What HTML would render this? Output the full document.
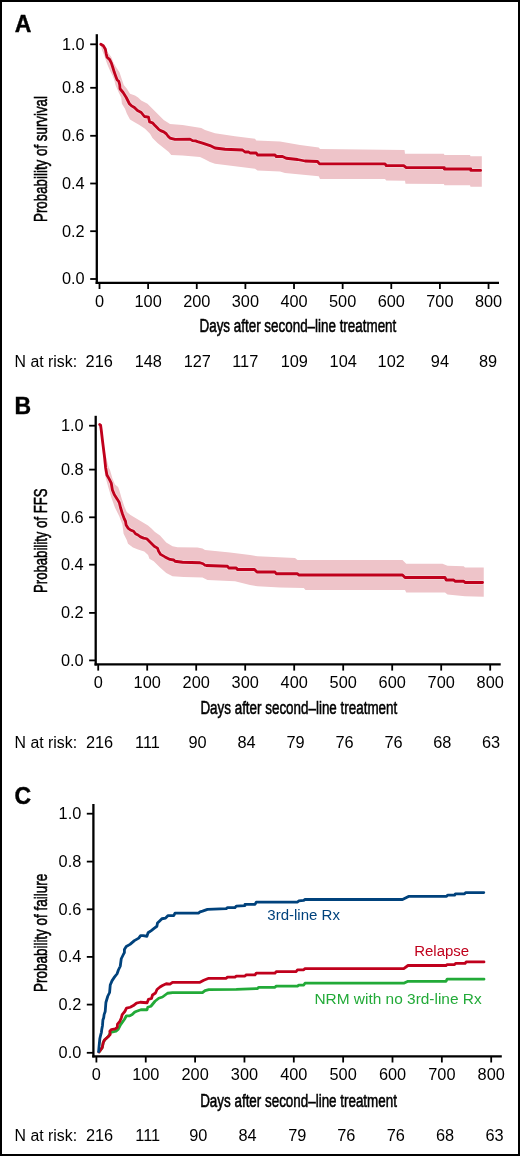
<!DOCTYPE html>
<html><head><meta charset="utf-8"><style>
html,body{margin:0;padding:0;background:#fff;}
body{width:520px;height:1156px;overflow:hidden;}
svg{display:block;will-change:transform;}
.plab{font-family:"Liberation Sans",sans-serif;font-weight:bold;font-size:23px;fill:#000;stroke:#000;stroke-width:0.4px;}
.tl{font-family:"Liberation Sans",sans-serif;font-size:16px;fill:#000;}
.nr{font-family:"Liberation Sans",sans-serif;font-size:16px;fill:#000;}
.tt{font-family:"Liberation Sans",sans-serif;font-size:18px;fill:#000;stroke:#000;stroke-width:0.55px;}
.yt{font-size:18.6px;}
.lg{font-family:"Liberation Sans",sans-serif;font-size:15.5px;}
.ax{stroke:#000;stroke-width:2.3;fill:none;}
.tk{stroke:#000;stroke-width:1.8;fill:none;}
</style></head><body>
<svg width="520" height="1156" viewBox="0 0 520 1156">
<rect x="1" y="1" width="518" height="1154" fill="#fff" stroke="#000" stroke-width="2"/>
<polygon points="100.50,44.30 104.50,49.80 108.50,53.30 111.40,57.30 113.20,62.00 116.00,67.10 119.50,72.30 121.80,79.20 123.75,85.00 126.90,88.75 130.00,93.75 135.00,95.60 138.10,97.50 141.25,100.60 147.50,103.75 152.50,108.75 158.75,115.00 163.75,120.00 170.00,124.00 182.50,125.00 195.00,126.90 201.25,128.10 205.00,130.00 215.00,133.25 235.00,136.25 255.00,138.75 256.25,140.50 280.00,141.50 300.00,145.00 318.75,147.50 320.00,149.00 404.50,150.00 405.00,153.75 443.80,153.75 444.50,155.10 470.00,155.10 470.50,156.30 481.80,156.30 481.80,186.80 470.50,186.80 470.00,185.20 444.50,185.20 443.80,184.00 405.50,183.75 405.00,180.75 386.25,180.50 385.00,179.00 320.00,179.00 318.75,176.25 285.00,173.00 280.00,171.50 257.50,170.50 255.00,168.75 235.00,166.25 215.00,163.75 210.00,161.90 203.75,158.75 200.00,156.90 182.50,155.60 171.25,155.00 168.75,151.90 163.75,148.10 157.50,143.10 152.50,138.10 150.00,133.75 145.00,128.75 139.40,125.00 135.00,122.50 130.00,119.40 126.90,113.75 125.00,108.75 121.90,103.75 121.25,97.50 118.75,92.50 115.50,85.00 114.30,80.00 112.60,75.80 110.30,71.20 108.00,66.00 106.20,61.30 104.50,56.20 102.20,50.40 100.50,44.30" fill="#eec4c9"/>
<polyline points="100.80,44.30 103.30,45.80 105.40,49.20 106.20,53.80 107.10,57.30 109.70,59.60 111.40,63.10 112.90,67.70 114.30,72.30 116.00,76.90 117.20,80.00 118.75,81.25 119.75,85.00 120.00,88.75 123.10,92.50 126.25,97.50 129.40,103.75 131.25,105.60 134.40,107.50 137.50,110.60 141.25,112.50 144.40,116.50 148.50,117.20 149.60,121.90 152.50,122.80 155.00,125.60 157.50,128.10 158.75,129.40 160.60,130.60 163.75,131.90 166.25,133.75 168.10,136.25 170.00,138.10 175.00,139.40 190.00,139.10 192.50,140.60 195.60,140.90 197.50,141.60 202.50,143.10 210.00,145.60 215.00,148.00 225.00,149.25 242.50,150.00 245.00,152.00 248.75,152.00 250.00,153.00 256.25,153.00 257.50,155.00 275.00,155.00 276.25,156.50 282.50,156.50 286.25,158.25 297.50,159.50 305.00,161.00 317.50,161.50 319.50,163.80 385.00,163.80 386.25,165.60 403.75,165.60 406.25,167.60 444.30,167.60 444.30,169.00 470.80,169.00 470.80,170.40 481.80,170.40" fill="none" stroke="#fff" stroke-opacity="0.3" stroke-width="4.40" stroke-linejoin="round"/>
<polyline points="100.80,44.30 103.30,45.80 105.40,49.20 106.20,53.80 107.10,57.30 109.70,59.60 111.40,63.10 112.90,67.70 114.30,72.30 116.00,76.90 117.20,80.00 118.75,81.25 119.75,85.00 120.00,88.75 123.10,92.50 126.25,97.50 129.40,103.75 131.25,105.60 134.40,107.50 137.50,110.60 141.25,112.50 144.40,116.50 148.50,117.20 149.60,121.90 152.50,122.80 155.00,125.60 157.50,128.10 158.75,129.40 160.60,130.60 163.75,131.90 166.25,133.75 168.10,136.25 170.00,138.10 175.00,139.40 190.00,139.10 192.50,140.60 195.60,140.90 197.50,141.60 202.50,143.10 210.00,145.60 215.00,148.00 225.00,149.25 242.50,150.00 245.00,152.00 248.75,152.00 250.00,153.00 256.25,153.00 257.50,155.00 275.00,155.00 276.25,156.50 282.50,156.50 286.25,158.25 297.50,159.50 305.00,161.00 317.50,161.50 319.50,163.80 385.00,163.80 386.25,165.60 403.75,165.60 406.25,167.60 444.30,167.60 444.30,169.00 470.80,169.00 470.80,170.40 480.60,170.40" fill="none" stroke="#c0001c" stroke-width="2.80" stroke-linejoin="round" stroke-linecap="round"/>
<text x="14.7" y="31.5" class="plab">A</text>
<line x1="96.80" y1="34.20" x2="96.80" y2="283.95" class="ax"/>
<line x1="95.65" y1="282.80" x2="499.00" y2="282.80" class="ax"/>
<line x1="90.20" y1="44.30" x2="96.80" y2="44.30" class="tk"/>
<text transform="translate(84.70,49.60) scale(1.020,1)" class="tl" text-anchor="end">1.0</text>
<line x1="90.20" y1="87.80" x2="96.80" y2="87.80" class="tk"/>
<text transform="translate(84.70,93.10) scale(1.020,1)" class="tl" text-anchor="end">0.8</text>
<line x1="90.20" y1="135.80" x2="96.80" y2="135.80" class="tk"/>
<text transform="translate(84.70,141.10) scale(1.020,1)" class="tl" text-anchor="end">0.6</text>
<line x1="90.20" y1="183.50" x2="96.80" y2="183.50" class="tk"/>
<text transform="translate(84.70,188.80) scale(1.020,1)" class="tl" text-anchor="end">0.4</text>
<line x1="90.20" y1="231.20" x2="96.80" y2="231.20" class="tk"/>
<text transform="translate(84.70,236.50) scale(1.020,1)" class="tl" text-anchor="end">0.2</text>
<line x1="90.20" y1="279.00" x2="96.80" y2="279.00" class="tk"/>
<text transform="translate(84.70,284.30) scale(1.020,1)" class="tl" text-anchor="end">0.0</text>
<line x1="99.50" y1="282.80" x2="99.50" y2="289.00" class="tk"/>
<text transform="translate(99.50,306.80) scale(1.020,1)" class="tl" text-anchor="middle">0</text>
<line x1="148.13" y1="282.80" x2="148.13" y2="289.00" class="tk"/>
<text transform="translate(148.13,306.80) scale(1.020,1)" class="tl" text-anchor="middle">100</text>
<line x1="196.76" y1="282.80" x2="196.76" y2="289.00" class="tk"/>
<text transform="translate(196.76,306.80) scale(1.020,1)" class="tl" text-anchor="middle">200</text>
<line x1="245.39" y1="282.80" x2="245.39" y2="289.00" class="tk"/>
<text transform="translate(245.39,306.80) scale(1.020,1)" class="tl" text-anchor="middle">300</text>
<line x1="294.02" y1="282.80" x2="294.02" y2="289.00" class="tk"/>
<text transform="translate(294.02,306.80) scale(1.020,1)" class="tl" text-anchor="middle">400</text>
<line x1="342.65" y1="282.80" x2="342.65" y2="289.00" class="tk"/>
<text transform="translate(342.65,306.80) scale(1.020,1)" class="tl" text-anchor="middle">500</text>
<line x1="391.28" y1="282.80" x2="391.28" y2="289.00" class="tk"/>
<text transform="translate(391.28,306.80) scale(1.020,1)" class="tl" text-anchor="middle">600</text>
<line x1="439.91" y1="282.80" x2="439.91" y2="289.00" class="tk"/>
<text transform="translate(439.91,306.80) scale(1.020,1)" class="tl" text-anchor="middle">700</text>
<line x1="488.54" y1="282.80" x2="488.54" y2="289.00" class="tk"/>
<text transform="translate(488.54,306.80) scale(1.020,1)" class="tl" text-anchor="middle">800</text>
<text transform="translate(46.90,222.00) rotate(-90)" class="tt yt" textLength="126.0" lengthAdjust="spacingAndGlyphs">Probability of survival</text>
<text x="199.50" y="331.60" class="tt" textLength="196.8" lengthAdjust="spacingAndGlyphs">Days after second&#8211;line treatment</text>
<text x="14.6" y="366.50" class="nr" textLength="62.5" lengthAdjust="spacingAndGlyphs">N at risk:</text>
<text transform="translate(99.20,366.50) scale(1.020,1)" class="nr" text-anchor="middle">216</text>
<text transform="translate(148.30,366.50) scale(1.020,1)" class="nr" text-anchor="middle">148</text>
<text transform="translate(197.30,366.50) scale(1.020,1)" class="nr" text-anchor="middle">127</text>
<text transform="translate(245.20,366.50) scale(1.020,1)" class="nr" text-anchor="middle">117</text>
<text transform="translate(294.30,366.50) scale(1.020,1)" class="nr" text-anchor="middle">109</text>
<text transform="translate(343.20,366.50) scale(1.020,1)" class="nr" text-anchor="middle">104</text>
<text transform="translate(391.20,366.50) scale(1.020,1)" class="nr" text-anchor="middle">102</text>
<text transform="translate(439.90,366.50) scale(1.020,1)" class="nr" text-anchor="middle">94</text>
<text transform="translate(488.10,366.50) scale(1.020,1)" class="nr" text-anchor="middle">89</text>
<polygon points="98.30,424.30 101.00,426.00 103.00,440.00 105.50,455.00 108.75,467.50 110.00,470.00 112.50,478.75 115.00,484.40 118.10,486.90 119.25,490.00 121.75,498.75 124.25,506.25 126.75,511.90 130.50,515.00 136.75,518.75 143.00,522.50 148.00,525.60 151.75,528.75 155.00,532.00 160.00,535.60 166.25,542.50 172.50,546.25 177.50,547.25 197.50,547.50 202.50,548.50 205.00,550.00 230.00,552.50 250.00,555.00 257.50,556.25 295.00,558.00 297.50,560.00 402.50,560.00 406.25,563.75 442.50,563.75 447.50,565.75 463.75,566.25 465.00,567.50 483.75,567.50 483.75,596.75 465.00,596.25 447.50,594.50 445.00,592.50 406.25,592.50 405.00,590.00 305.50,590.00 303.75,588.00 280.00,587.50 257.50,586.25 250.00,585.00 235.00,581.25 207.50,580.00 205.00,578.75 202.50,577.50 183.75,576.90 172.50,576.25 166.25,573.10 160.00,567.50 153.75,561.25 149.40,558.75 148.10,555.00 144.25,551.50 138.00,549.40 133.00,547.50 128.00,543.75 126.75,540.00 123.60,533.75 122.40,524.40 119.25,516.25 114.90,507.50 111.50,498.00 108.75,488.75 105.60,477.50 105.00,475.00 104.00,465.00 102.00,445.00 100.00,428.00 98.30,424.30" fill="#eec4c9"/>
<polyline points="99.70,424.40 100.60,425.30 101.25,430.00 102.25,438.75 103.50,448.75 104.75,458.75 105.60,467.50 106.90,475.00 109.40,479.40 111.25,483.10 112.40,490.00 114.25,494.40 117.40,499.40 119.25,502.50 120.50,507.50 122.40,513.75 124.25,518.75 125.50,521.25 126.10,525.00 128.00,528.10 130.50,530.00 133.60,531.25 135.50,533.75 138.00,535.00 140.50,536.90 143.60,538.10 146.75,538.75 149.25,541.25 151.75,543.75 154.25,546.25 157.40,548.10 158.60,551.25 160.60,554.40 165.00,556.90 170.00,559.40 173.75,560.00 175.00,561.25 182.50,562.25 200.00,562.75 203.10,563.75 205.00,565.25 206.25,565.50 227.50,566.25 228.75,568.00 236.25,568.00 237.50,569.50 254.50,569.50 257.00,572.00 275.00,572.00 276.25,573.75 297.50,573.75 298.75,575.00 402.50,575.00 405.00,577.50 445.00,577.50 446.25,580.00 453.75,580.00 455.00,581.25 463.75,581.25 465.00,582.50 483.75,582.50" fill="none" stroke="#fff" stroke-opacity="0.3" stroke-width="4.40" stroke-linejoin="round"/>
<polyline points="99.70,424.40 100.60,425.30 101.25,430.00 102.25,438.75 103.50,448.75 104.75,458.75 105.60,467.50 106.90,475.00 109.40,479.40 111.25,483.10 112.40,490.00 114.25,494.40 117.40,499.40 119.25,502.50 120.50,507.50 122.40,513.75 124.25,518.75 125.50,521.25 126.10,525.00 128.00,528.10 130.50,530.00 133.60,531.25 135.50,533.75 138.00,535.00 140.50,536.90 143.60,538.10 146.75,538.75 149.25,541.25 151.75,543.75 154.25,546.25 157.40,548.10 158.60,551.25 160.60,554.40 165.00,556.90 170.00,559.40 173.75,560.00 175.00,561.25 182.50,562.25 200.00,562.75 203.10,563.75 205.00,565.25 206.25,565.50 227.50,566.25 228.75,568.00 236.25,568.00 237.50,569.50 254.50,569.50 257.00,572.00 275.00,572.00 276.25,573.75 297.50,573.75 298.75,575.00 402.50,575.00 405.00,577.50 445.00,577.50 446.25,580.00 453.75,580.00 455.00,581.25 463.75,581.25 465.00,582.50 482.55,582.50" fill="none" stroke="#c0001c" stroke-width="2.80" stroke-linejoin="round" stroke-linecap="round"/>
<text x="14.5" y="413.5" class="plab">B</text>
<line x1="95.70" y1="415.80" x2="95.70" y2="665.55" class="ax"/>
<line x1="94.55" y1="664.40" x2="500.70" y2="664.40" class="ax"/>
<line x1="89.10" y1="425.70" x2="95.70" y2="425.70" class="tk"/>
<text transform="translate(83.60,431.00) scale(1.020,1)" class="tl" text-anchor="end">1.0</text>
<line x1="89.10" y1="469.60" x2="95.70" y2="469.60" class="tk"/>
<text transform="translate(83.60,474.90) scale(1.020,1)" class="tl" text-anchor="end">0.8</text>
<line x1="89.10" y1="517.30" x2="95.70" y2="517.30" class="tk"/>
<text transform="translate(83.60,522.60) scale(1.020,1)" class="tl" text-anchor="end">0.6</text>
<line x1="89.10" y1="564.70" x2="95.70" y2="564.70" class="tk"/>
<text transform="translate(83.60,570.00) scale(1.020,1)" class="tl" text-anchor="end">0.4</text>
<line x1="89.10" y1="612.90" x2="95.70" y2="612.90" class="tk"/>
<text transform="translate(83.60,618.20) scale(1.020,1)" class="tl" text-anchor="end">0.2</text>
<line x1="89.10" y1="660.40" x2="95.70" y2="660.40" class="tk"/>
<text transform="translate(83.60,665.70) scale(1.020,1)" class="tl" text-anchor="end">0.0</text>
<line x1="98.20" y1="664.40" x2="98.20" y2="670.60" class="tk"/>
<text transform="translate(98.20,688.10) scale(1.020,1)" class="tl" text-anchor="middle">0</text>
<line x1="147.20" y1="664.40" x2="147.20" y2="670.60" class="tk"/>
<text transform="translate(147.20,688.10) scale(1.020,1)" class="tl" text-anchor="middle">100</text>
<line x1="196.20" y1="664.40" x2="196.20" y2="670.60" class="tk"/>
<text transform="translate(196.20,688.10) scale(1.020,1)" class="tl" text-anchor="middle">200</text>
<line x1="245.20" y1="664.40" x2="245.20" y2="670.60" class="tk"/>
<text transform="translate(245.20,688.10) scale(1.020,1)" class="tl" text-anchor="middle">300</text>
<line x1="294.20" y1="664.40" x2="294.20" y2="670.60" class="tk"/>
<text transform="translate(294.20,688.10) scale(1.020,1)" class="tl" text-anchor="middle">400</text>
<line x1="343.20" y1="664.40" x2="343.20" y2="670.60" class="tk"/>
<text transform="translate(343.20,688.10) scale(1.020,1)" class="tl" text-anchor="middle">500</text>
<line x1="392.20" y1="664.40" x2="392.20" y2="670.60" class="tk"/>
<text transform="translate(392.20,688.10) scale(1.020,1)" class="tl" text-anchor="middle">600</text>
<line x1="441.20" y1="664.40" x2="441.20" y2="670.60" class="tk"/>
<text transform="translate(441.20,688.10) scale(1.020,1)" class="tl" text-anchor="middle">700</text>
<line x1="490.20" y1="664.40" x2="490.20" y2="670.60" class="tk"/>
<text transform="translate(490.20,688.10) scale(1.020,1)" class="tl" text-anchor="middle">800</text>
<text transform="translate(46.80,593.00) rotate(-90)" class="tt yt" textLength="104.6" lengthAdjust="spacingAndGlyphs">Probability of FFS</text>
<text x="200.40" y="714.10" class="tt" textLength="196.8" lengthAdjust="spacingAndGlyphs">Days after second&#8211;line treatment</text>
<text x="14.6" y="748.30" class="nr" textLength="62.5" lengthAdjust="spacingAndGlyphs">N at risk:</text>
<text transform="translate(99.50,748.30) scale(1.020,1)" class="nr" text-anchor="middle">216</text>
<text transform="translate(147.50,748.30) scale(1.020,1)" class="nr" text-anchor="middle">111</text>
<text transform="translate(197.50,748.30) scale(1.020,1)" class="nr" text-anchor="middle">90</text>
<text transform="translate(246.50,748.30) scale(1.020,1)" class="nr" text-anchor="middle">84</text>
<text transform="translate(295.50,748.30) scale(1.020,1)" class="nr" text-anchor="middle">79</text>
<text transform="translate(344.50,748.30) scale(1.020,1)" class="nr" text-anchor="middle">76</text>
<text transform="translate(393.50,748.30) scale(1.020,1)" class="nr" text-anchor="middle">76</text>
<text transform="translate(442.20,748.30) scale(1.020,1)" class="nr" text-anchor="middle">68</text>
<text transform="translate(491.00,748.30) scale(1.020,1)" class="nr" text-anchor="middle">63</text>
<polyline points="99.30,1051.80 100.20,1050.40 102.20,1047.70 103.30,1042.30 104.50,1040.00 108.30,1036.50 110.60,1032.30 116.00,1031.20 118.30,1029.20 120.60,1024.60 124.50,1019.20 126.40,1015.80 129.80,1015.80 132.20,1014.60 134.50,1012.30 136.00,1011.50 140.90,1009.75 147.10,1009.75 147.75,1007.25 150.90,1006.25 155.00,1001.25 158.75,998.25 162.50,997.00 167.50,993.25 172.50,992.60 202.50,992.60 205.00,990.60 208.75,989.60 236.25,989.35 257.50,988.60 258.75,987.35 275.00,987.35 276.25,986.10 297.50,986.10 298.75,985.10 303.75,985.10 305.00,983.20 403.75,983.20 408.00,981.30 446.00,981.30 447.10,979.20 484.00,979.20" fill="none" stroke="#22aa38" stroke-width="2.80" stroke-linejoin="round" stroke-linecap="round"/>
<polyline points="98.90,1052.00 100.20,1050.40 102.20,1047.70 103.30,1042.30 104.50,1040.00 108.30,1036.50 110.20,1034.60 109.80,1031.20 111.40,1029.60 115.20,1028.80 117.20,1027.30 117.50,1024.20 119.80,1021.50 121.40,1017.70 122.20,1014.60 124.80,1011.50 126.50,1008.10 130.25,1007.25 133.40,1005.60 136.50,1003.10 140.25,1002.25 147.10,1002.75 148.40,999.40 151.50,998.50 152.50,995.00 155.50,993.00 157.00,989.50 160.00,987.00 162.50,985.50 166.25,983.75 170.00,984.05 172.50,982.30 200.00,982.30 203.75,980.30 208.75,978.30 226.25,978.30 227.50,977.05 235.00,977.05 236.25,976.05 245.00,976.05 246.25,974.80 255.00,974.80 256.25,973.10 275.00,973.10 276.25,971.55 296.25,971.55 297.50,969.80 303.75,969.80 305.00,968.60 403.75,968.60 408.00,965.50 446.00,965.50 447.10,964.70 454.50,964.70 455.60,963.40 465.10,963.40 466.20,961.90 484.00,961.90" fill="none" stroke="#c0001c" stroke-width="2.80" stroke-linejoin="round" stroke-linecap="round"/>
<polyline points="98.60,1051.60 99.10,1046.20 99.85,1038.50 100.60,1035.40 101.40,1032.30 101.80,1029.20 102.50,1025.40 102.90,1020.00 103.70,1017.70 104.10,1014.60 105.20,1011.50 105.90,1002.50 107.75,996.25 109.60,992.50 110.25,985.00 112.10,980.60 114.60,976.90 117.10,973.75 118.40,970.00 120.25,966.25 121.25,958.75 123.10,955.00 124.40,952.50 124.40,949.40 126.25,946.50 130.00,944.40 134.40,940.60 138.75,938.10 140.60,935.60 143.10,935.60 146.90,936.25 148.10,932.75 151.25,930.60 154.40,928.10 156.90,926.25 157.50,923.10 159.40,921.25 161.90,918.75 165.60,918.10 168.10,915.60 173.75,915.60 175.00,913.10 198.75,913.10 200.00,911.85 202.50,911.10 207.50,909.35 226.25,908.60 227.50,907.60 235.00,907.60 236.25,906.10 245.00,905.60 245.00,904.35 255.00,904.35 256.25,902.10 297.50,902.10 298.75,900.90 303.75,900.40 305.00,899.50 402.50,899.50 408.50,896.40 446.50,896.40 447.60,895.10 454.60,895.10 455.40,893.90 464.50,893.90 465.60,892.60 483.80,892.60" fill="none" stroke="#00427c" stroke-width="2.80" stroke-linejoin="round" stroke-linecap="round"/>
<text x="267.3" y="919.6" class="lg" fill="#00427c" textLength="72.7" lengthAdjust="spacingAndGlyphs">3rd-line Rx</text>
<text x="414.2" y="955.8" class="lg" fill="#c0001c" textLength="55" lengthAdjust="spacingAndGlyphs">Relapse</text>
<text x="314.4" y="1003.7" class="lg" fill="#22aa38" textLength="167.3" lengthAdjust="spacingAndGlyphs">NRM with no 3rd-line Rx</text>
<text x="14.6" y="804.0" class="plab">C</text>
<line x1="93.40" y1="804.00" x2="93.40" y2="1057.45" class="ax"/>
<line x1="92.25" y1="1056.30" x2="501.80" y2="1056.30" class="ax"/>
<line x1="86.80" y1="813.70" x2="93.40" y2="813.70" class="tk"/>
<text transform="translate(81.30,819.00) scale(1.020,1)" class="tl" text-anchor="end">1.0</text>
<line x1="86.80" y1="861.60" x2="93.40" y2="861.60" class="tk"/>
<text transform="translate(81.30,866.90) scale(1.020,1)" class="tl" text-anchor="end">0.8</text>
<line x1="86.80" y1="909.30" x2="93.40" y2="909.30" class="tk"/>
<text transform="translate(81.30,914.60) scale(1.020,1)" class="tl" text-anchor="end">0.6</text>
<line x1="86.80" y1="956.90" x2="93.40" y2="956.90" class="tk"/>
<text transform="translate(81.30,962.20) scale(1.020,1)" class="tl" text-anchor="end">0.4</text>
<line x1="86.80" y1="1004.60" x2="93.40" y2="1004.60" class="tk"/>
<text transform="translate(81.30,1009.90) scale(1.020,1)" class="tl" text-anchor="end">0.2</text>
<line x1="86.80" y1="1052.80" x2="93.40" y2="1052.80" class="tk"/>
<text transform="translate(81.30,1058.10) scale(1.020,1)" class="tl" text-anchor="end">0.0</text>
<line x1="96.40" y1="1056.30" x2="96.40" y2="1062.50" class="tk"/>
<text transform="translate(96.40,1080.20) scale(1.020,1)" class="tl" text-anchor="middle">0</text>
<line x1="145.75" y1="1056.30" x2="145.75" y2="1062.50" class="tk"/>
<text transform="translate(145.75,1080.20) scale(1.020,1)" class="tl" text-anchor="middle">100</text>
<line x1="195.10" y1="1056.30" x2="195.10" y2="1062.50" class="tk"/>
<text transform="translate(195.10,1080.20) scale(1.020,1)" class="tl" text-anchor="middle">200</text>
<line x1="244.45" y1="1056.30" x2="244.45" y2="1062.50" class="tk"/>
<text transform="translate(244.45,1080.20) scale(1.020,1)" class="tl" text-anchor="middle">300</text>
<line x1="293.80" y1="1056.30" x2="293.80" y2="1062.50" class="tk"/>
<text transform="translate(293.80,1080.20) scale(1.020,1)" class="tl" text-anchor="middle">400</text>
<line x1="343.15" y1="1056.30" x2="343.15" y2="1062.50" class="tk"/>
<text transform="translate(343.15,1080.20) scale(1.020,1)" class="tl" text-anchor="middle">500</text>
<line x1="392.50" y1="1056.30" x2="392.50" y2="1062.50" class="tk"/>
<text transform="translate(392.50,1080.20) scale(1.020,1)" class="tl" text-anchor="middle">600</text>
<line x1="441.85" y1="1056.30" x2="441.85" y2="1062.50" class="tk"/>
<text transform="translate(441.85,1080.20) scale(1.020,1)" class="tl" text-anchor="middle">700</text>
<line x1="491.20" y1="1056.30" x2="491.20" y2="1062.50" class="tk"/>
<text transform="translate(491.20,1080.20) scale(1.020,1)" class="tl" text-anchor="middle">800</text>
<text transform="translate(46.90,992.00) rotate(-90)" class="tt yt" textLength="118.2" lengthAdjust="spacingAndGlyphs">Probability of failure</text>
<text x="200.20" y="1107.20" class="tt" textLength="196.7" lengthAdjust="spacingAndGlyphs">Days after second&#8211;line treatment</text>
<text x="14.6" y="1140.80" class="nr" textLength="62.5" lengthAdjust="spacingAndGlyphs">N at risk:</text>
<text transform="translate(99.50,1140.80) scale(1.020,1)" class="nr" text-anchor="middle">216</text>
<text transform="translate(147.70,1140.80) scale(1.020,1)" class="nr" text-anchor="middle">111</text>
<text transform="translate(198.20,1140.80) scale(1.020,1)" class="nr" text-anchor="middle">90</text>
<text transform="translate(247.50,1140.80) scale(1.020,1)" class="nr" text-anchor="middle">84</text>
<text transform="translate(297.20,1140.80) scale(1.020,1)" class="nr" text-anchor="middle">79</text>
<text transform="translate(346.20,1140.80) scale(1.020,1)" class="nr" text-anchor="middle">76</text>
<text transform="translate(395.70,1140.80) scale(1.020,1)" class="nr" text-anchor="middle">76</text>
<text transform="translate(445.00,1140.80) scale(1.020,1)" class="nr" text-anchor="middle">68</text>
<text transform="translate(494.50,1140.80) scale(1.020,1)" class="nr" text-anchor="middle">63</text>
</svg>
</body></html>
